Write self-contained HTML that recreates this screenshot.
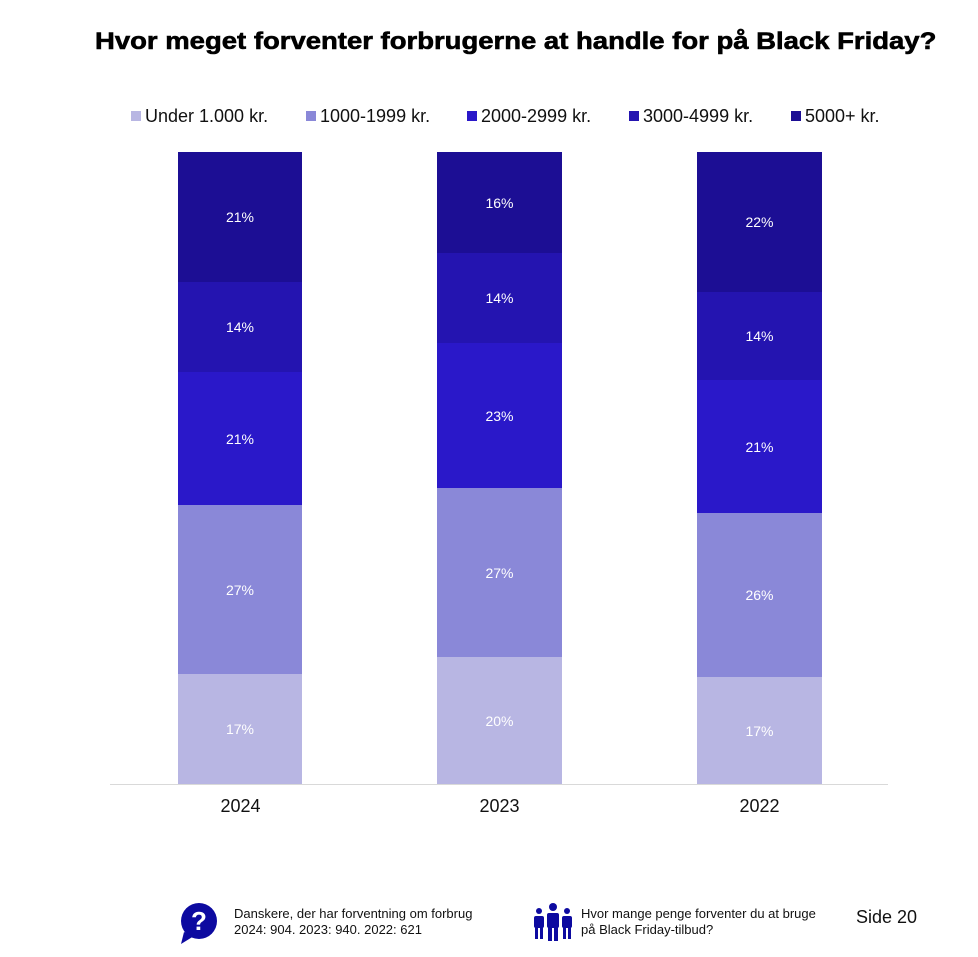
<!DOCTYPE html><html><head><meta charset="utf-8"><style>
body{margin:0;width:978px;height:957px;background:#fff;position:relative;font-family:"Liberation Sans",sans-serif;overflow:hidden}
.a{position:absolute}
.s{position:absolute;display:flex;align-items:center;justify-content:center;color:#fff;font-size:14px}
.lg{position:absolute;top:106px;font-size:18px;color:#111;white-space:nowrap}
.lg i{display:inline-block;width:10px;height:10px;margin-right:4px;vertical-align:1px}
.yr{position:absolute;top:796px;font-size:18px;color:#111;width:125px;text-align:center}
.ft{position:absolute;font-size:13px;color:#111;line-height:16px}
</style></head><body>
<div class="a" style="left:95px;top:28px;font-size:24px;font-weight:bold;color:#000;transform:scaleX(1.145);transform-origin:0 0;white-space:nowrap;-webkit-text-stroke:0.6px #000">Hvor meget forventer forbrugerne at handle for på Black Friday?</div>
<div class="lg" style="left:131px"><i style="background:#b8b6e3"></i>Under 1.000 kr.</div>
<div class="lg" style="left:306px"><i style="background:#8a88d8"></i>1000-1999 kr.</div>
<div class="lg" style="left:467px"><i style="background:#2a18c9"></i>2000-2999 kr.</div>
<div class="lg" style="left:629px"><i style="background:#2414b0"></i>3000-4999 kr.</div>
<div class="lg" style="left:791px"><i style="background:#1c0e94"></i>5000+ kr.</div>

<div class="s" style="left:178px;width:124px;top:152px;height:130px;background:#1c0e94">21%</div>
<div class="s" style="left:178px;width:124px;top:282px;height:90px;background:#2414b0">14%</div>
<div class="s" style="left:178px;width:124px;top:372px;height:133px;background:#2a18c9">21%</div>
<div class="s" style="left:178px;width:124px;top:505px;height:169px;background:#8a88d8">27%</div>
<div class="s" style="left:178px;width:124px;top:674px;height:110px;background:#b8b6e3">17%</div>

<div class="s" style="left:437px;width:125px;top:152px;height:101px;background:#1c0e94">16%</div>
<div class="s" style="left:437px;width:125px;top:253px;height:90px;background:#2414b0">14%</div>
<div class="s" style="left:437px;width:125px;top:343px;height:145px;background:#2a18c9">23%</div>
<div class="s" style="left:437px;width:125px;top:488px;height:169px;background:#8a88d8">27%</div>
<div class="s" style="left:437px;width:125px;top:657px;height:127px;background:#b8b6e3">20%</div>

<div class="s" style="left:697px;width:125px;top:152px;height:140px;background:#1c0e94">22%</div>
<div class="s" style="left:697px;width:125px;top:292px;height:88px;background:#2414b0">14%</div>
<div class="s" style="left:697px;width:125px;top:380px;height:133px;background:#2a18c9">21%</div>
<div class="s" style="left:697px;width:125px;top:513px;height:164px;background:#8a88d8">26%</div>
<div class="s" style="left:697px;width:125px;top:677px;height:107px;background:#b8b6e3">17%</div>

<div class="a" style="left:110px;top:784px;width:778px;height:1px;background:#d9d9d9"></div>
<div class="yr" style="left:178px">2024</div>
<div class="yr" style="left:437px">2023</div>
<div class="yr" style="left:697px">2022</div>

<svg class="a" style="left:178px;top:902px" width="42" height="42" viewBox="0 0 42 42"><circle cx="21" cy="19" r="18" fill="#0d0aa0"/><path d="M6 30 L3 42 L16 34Z" fill="#0d0aa0"/><text x="21" y="28" font-size="26" font-weight="bold" fill="#fff" text-anchor="middle" font-family="Liberation Sans">?</text></svg>
<div class="ft" style="left:234px;top:906px">Danskere, der har forventning om forbrug<br>2024: 904. 2023: 940. 2022: 621</div>
<svg class="a" style="left:532px;top:903px" width="42" height="38" viewBox="0 0 42 38"><g fill="#0d0aa0"><circle cx="21" cy="4" r="4"/><rect x="15" y="10" width="12" height="15" rx="2"/><rect x="16" y="24" width="4" height="14"/><rect x="22" y="24" width="4" height="14"/><circle cx="7" cy="8" r="3"/><rect x="2" y="13" width="10" height="12" rx="2"/><rect x="3" y="24" width="3" height="12"/><rect x="8" y="24" width="3" height="12"/><circle cx="35" cy="8" r="3"/><rect x="30" y="13" width="10" height="12" rx="2"/><rect x="31" y="24" width="3" height="12"/><rect x="36" y="24" width="3" height="12"/></g></svg>
<div class="ft" style="left:581px;top:906px">Hvor mange penge forventer du at bruge<br>på Black Friday-tilbud?</div>
<div class="a" style="left:856px;top:907px;font-size:18px;color:#111">Side 20</div>
</body></html>
